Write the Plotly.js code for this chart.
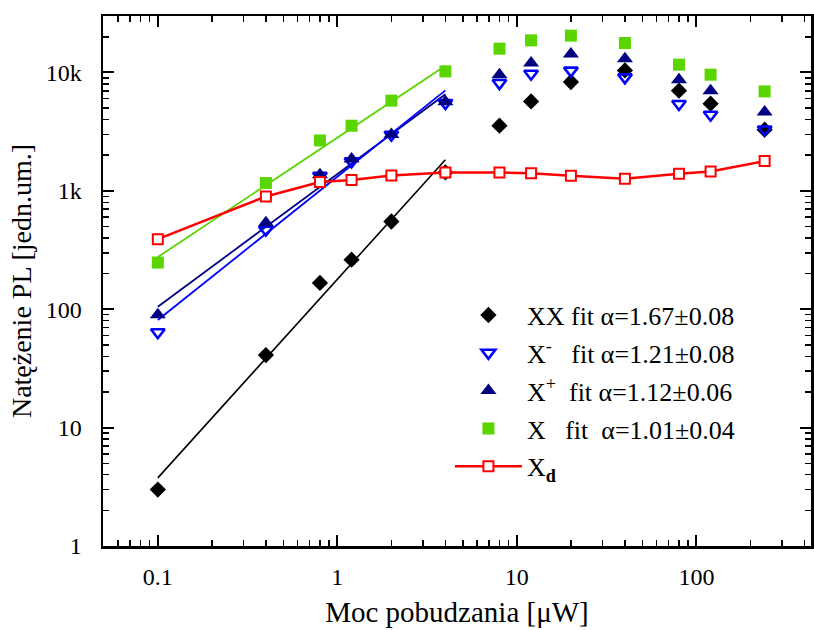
<!DOCTYPE html>
<html>
<head>
<meta charset="utf-8">
<script src="https://cdn.plot.ly/plotly-3.0.1.min.js"></script>
<style>html,body{margin:0;padding:0;background:#fff;}#chart{width:814px;height:630px;}</style>
</head>
<body>
<div id="chart"></div>
<script>
// Excitation power [µW]
const power = [0.1, 0.4, 0.8, 1.2, 2, 4, 8, 12, 20, 40, 80, 120, 240];
// PL intensities [arb. units]
const intXX     = [3, 41, 167, 262, 551, 1431, 3550, 5700, 8310, 10400, 7020, 5450, 3285];
const intXminus = [64, 470, 1340, 1774, 2980, 5520, 8150, 9770, 10360, 9090, 5420, 4400, 3300];
const intXplus  = [90, 537, 1368, 1857, 3000, 5660, 9580, 12030, 14330, 13080, 8690, 7020, 4635];
const intX      = [248, 1164, 2668, 3550, 5780, 10220, 15890, 18680, 20470, 17750, 11640, 9580, 6920];
const intXd     = [391, 897, 1187, 1234, 1350, 1431, 1431, 1410, 1342, 1266, 1395, 1459, 1786];
// Fit line end points
const fitPower   = [0.1, 4];
const fitXX      = [3.76, 1832];
const fitXminus  = [81, 7060];
const fitXplus   = [105, 6560];
const fitX       = [276, 11400];
// Labels
const legendNames = [
  "XX fit α=1.67±0.08",
  "X<sup>-</sup>\u00A0\u00A0 fit α=1.21±0.08",
  "X<sup>+</sup>\u00A0 fit α=1.12±0.06",
  "X\u00A0\u00A0 fit\u00A0 α=1.01±0.04",
  "X<sub><b>d</b></sub>"
];
const xTitle = "Moc pobudzania [μW]";
const yTitle = "Natężenie PL [jedn.um.]";

const cBlack = "#000000", cBlue = "#0000FF", cNavy = "#000080", cGreen = "#5AD500", cRed = "#FF0000";
const FONT = "Liberation Serif, Times New Roman, serif";

const traces = [
  {x: fitPower, y: fitXX, mode: "lines", line: {color: cBlack, width: 1.6}, showlegend: false, hoverinfo: "skip"},
  {x: fitPower, y: fitX, mode: "lines", line: {color: cGreen, width: 1.8}, showlegend: false, hoverinfo: "skip"},
  {x: fitPower, y: fitXplus, mode: "lines", line: {color: cNavy, width: 1.8}, showlegend: false, hoverinfo: "skip"},
  {x: fitPower, y: fitXminus, mode: "lines", line: {color: cBlue, width: 1.8}, showlegend: false, hoverinfo: "skip"},
  {x: power, y: intXX, mode: "markers", name: legendNames[0], legendgroup: "a",
   marker: {symbol: "diamond", size: 12.5, color: cBlack}},
  {x: power, y: intXminus, mode: "markers", name: legendNames[1], legendgroup: "b",
   marker: {symbol: "triangle-down-open", size: 12, color: cBlue, line: {width: 2.6, color: cBlue}}},
  {x: power, y: intXplus, mode: "markers", name: legendNames[2], legendgroup: "c",
   marker: {symbol: "triangle-up", size: 14, color: cNavy}},
  {x: power, y: intX, mode: "markers", name: legendNames[3], legendgroup: "d",
   marker: {symbol: "square", size: 12, color: cGreen}},
  {x: power, y: intXd, mode: "lines+markers", name: legendNames[4], legendgroup: "e",
   line: {color: cRed, width: 2.5},
   marker: {symbol: "square", size: 10, color: "#ffffff", line: {width: 2, color: cRed}}}
];

const axisCommon = {
  type: "log",
  showline: true, linewidth: 2.5, linecolor: "#000",
  mirror: "allticks",
  ticks: "inside", ticklen: 11, tickwidth: 2, tickcolor: "#000",
  minor: {ticks: "inside", ticklen: 6, tickwidth: 1.5, tickcolor: "#000", dtick: "D1", showgrid: false},
  showgrid: false, zeroline: false,
  tickfont: {family: FONT, size: 24, color: "#000"},
  dtick: 1
};

const layout = {
  width: 814, height: 630,
  paper_bgcolor: "#fff", plot_bgcolor: "#fff",
  margin: {l: 103, r: 3, t: 16, b: 84},
  font: {family: FONT, color: "#000"},
  xaxis: Object.assign({}, axisCommon, {
    range: [Math.log10(0.0495), Math.log10(435)],
    ticklabelstandoff: 8,
    title: {text: xTitle, font: {family: FONT, size: 29, color: "#000"}, standoff: 13}
  }),
  yaxis: Object.assign({}, axisCommon, {
    range: [0, Math.log10(30000)],
    tickformat: "~s",
    ticklabelstandoff: 14,
    title: {text: yTitle, font: {family: FONT, size: 28, color: "#000"}, standoff: 6}
  }),
  showlegend: true,
  legend: {
    x: 0.49, y: 0.48, xanchor: "left", yanchor: "top",
    bgcolor: "rgba(0,0,0,0)", borderwidth: 0,
    font: {family: FONT, size: 26, color: "#000"},
    itemwidth: 67, tracegroupgap: 1, itemsizing: "trace"
  }
};

Plotly.newPlot("chart", traces, layout, {staticPlot: true, displayModeBar: false});
</script>
</body>
</html>
